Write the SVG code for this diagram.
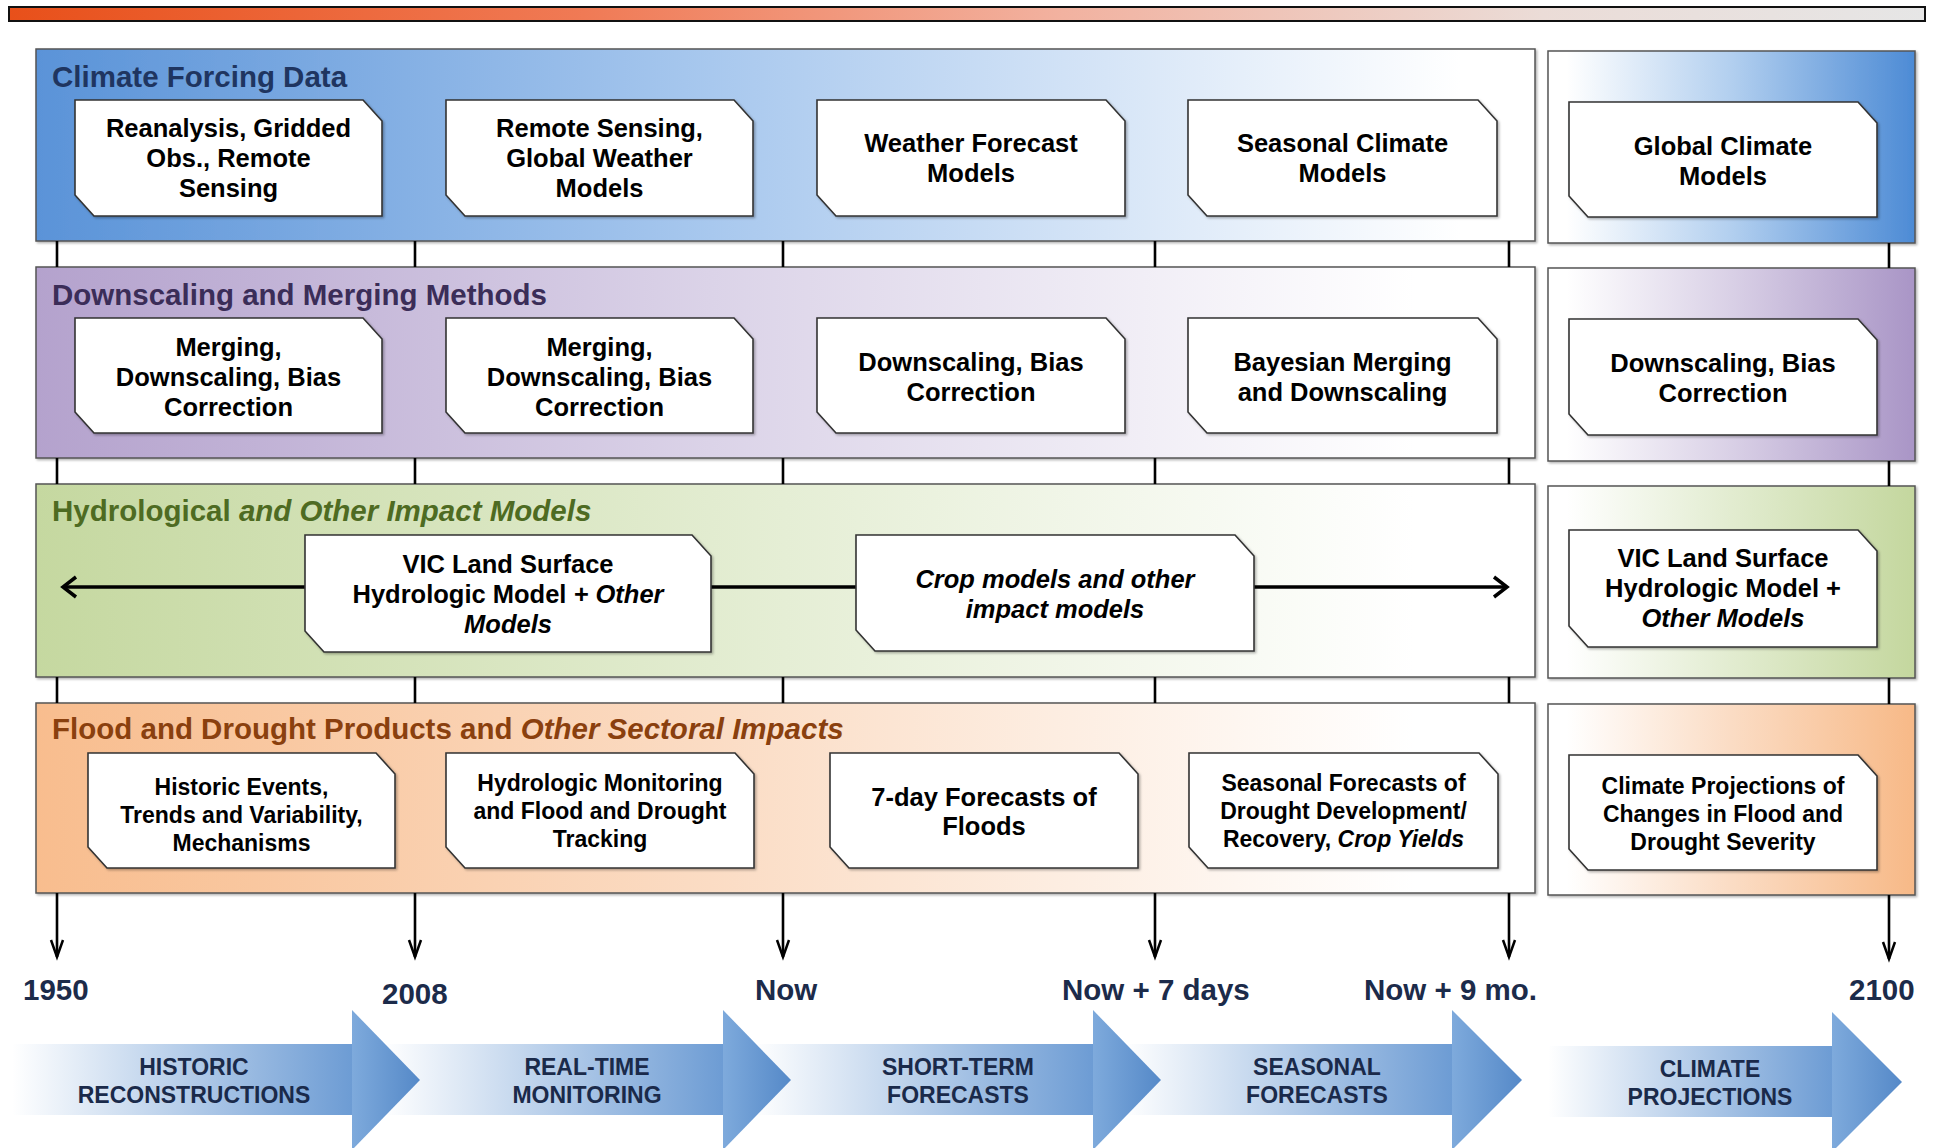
<svg xmlns="http://www.w3.org/2000/svg" width="1937" height="1148" viewBox="0 0 1937 1148">
<defs>
<style>
text{font-family:"Liberation Sans",Arial,Helvetica,sans-serif;font-weight:bold}
.bt{font-size:25.5px;fill:#000;text-anchor:middle}
.bs{font-size:23px;fill:#000;text-anchor:middle}
.ttl{font-size:29.5px}
.tl{font-size:29.5px;fill:#1c2b4a}
.at{font-size:23px;fill:#1a2a4a;text-anchor:middle}
.it{font-style:italic}
.box{fill:#fff;stroke:#333;stroke-width:1.6;filter:url(#sh)}
.pan{stroke:#555;stroke-width:1.5;filter:url(#sh)}
.tick{stroke:#000;stroke-width:2.6;fill:none}
</style>
<filter id="sh" x="-5%" y="-5%" width="110%" height="115%"><feDropShadow dx="1.5" dy="1.5" stdDeviation="1" flood-color="#000" flood-opacity="0.3"/></filter>
<linearGradient id="topbar" x1="0" y1="0" x2="1" y2="0"><stop offset="0" stop-color="#e8501a"/><stop offset="0.3" stop-color="#f07a55"/><stop offset="0.55" stop-color="#f2b2a0"/><stop offset="0.8" stop-color="#ebdcd7"/><stop offset="1" stop-color="#e6e6e6"/></linearGradient>
<linearGradient id="gB" x1="0" y1="0" x2="1" y2="0"><stop offset="0" stop-color="#5a93d8"/><stop offset="0.45" stop-color="#a8c8ee"/><stop offset="0.95" stop-color="#ffffff"/></linearGradient>
<linearGradient id="gBr" x1="0" y1="0" x2="1" y2="0"><stop offset="0.05" stop-color="#ffffff"/><stop offset="0.5" stop-color="#b2cfef"/><stop offset="1" stop-color="#4d8bd5"/></linearGradient>
<linearGradient id="gP" x1="0" y1="0" x2="1" y2="0"><stop offset="0" stop-color="#b4a2cd"/><stop offset="0.45" stop-color="#dbd3e8"/><stop offset="0.92" stop-color="#ffffff"/></linearGradient>
<linearGradient id="gPr" x1="0" y1="0" x2="1" y2="0"><stop offset="0.05" stop-color="#ffffff"/><stop offset="0.5" stop-color="#d9d0e6"/><stop offset="1" stop-color="#a995c6"/></linearGradient>
<linearGradient id="gG" x1="0" y1="0" x2="1" y2="0"><stop offset="0" stop-color="#c5d8a0"/><stop offset="0.45" stop-color="#e2ecd0"/><stop offset="0.92" stop-color="#ffffff"/></linearGradient>
<linearGradient id="gGr" x1="0" y1="0" x2="1" y2="0"><stop offset="0.05" stop-color="#ffffff"/><stop offset="0.5" stop-color="#e2ecd0"/><stop offset="1" stop-color="#c4d79e"/></linearGradient>
<linearGradient id="gO" x1="0" y1="0" x2="1" y2="0"><stop offset="0" stop-color="#f8bd8e"/><stop offset="0.45" stop-color="#fbdcc4"/><stop offset="0.92" stop-color="#ffffff"/></linearGradient>
<linearGradient id="gOr" x1="0" y1="0" x2="1" y2="0"><stop offset="0.05" stop-color="#ffffff"/><stop offset="0.5" stop-color="#fbdcc4"/><stop offset="1" stop-color="#f7b987"/></linearGradient>
<linearGradient id="body" x1="0" y1="0" x2="1" y2="0"><stop offset="0" stop-color="#6d9cd4" stop-opacity="0"/><stop offset="1" stop-color="#6d9cd4" stop-opacity="1"/></linearGradient>
<linearGradient id="head" x1="0" y1="0" x2="1" y2="0"><stop offset="0" stop-color="#7eaadc"/><stop offset="1" stop-color="#5589c8"/></linearGradient>
<marker id="chev" viewBox="-16 -12 20 24" refX="0" refY="0" markerWidth="20" markerHeight="24" markerUnits="userSpaceOnUse" orient="auto-start-reverse"><path d="M-13,-10 L0,0 L-13,10" fill="none" stroke="#000" stroke-width="3.5"/></marker>
<marker id="dn" viewBox="-20 -8 24 16" refX="0" refY="0" markerWidth="24" markerHeight="16" markerUnits="userSpaceOnUse" orient="auto"><path d="M-17,-6 L0,0 L-17,6" fill="none" stroke="#000" stroke-width="2.5"/></marker>
</defs>
<rect width="1937" height="1148" fill="#fff"/>
<rect x="9" y="7" width="1916" height="14" fill="url(#topbar)" stroke="#111" stroke-width="2"/>

<g id="bands">
<g id="band-climate">
<rect class="pan" x="36" y="49" width="1499" height="192" fill="url(#gB)"/>
<rect class="pan" x="1548" y="51" width="367" height="192" fill="url(#gBr)"/>
<text class="ttl" x="52" y="87" fill="#1f3560">Climate Forcing Data</text>
</g>
<g id="band-downscaling">
<rect class="pan" x="36" y="267" width="1499" height="191" fill="url(#gP)"/>
<rect class="pan" x="1548" y="268" width="367" height="193" fill="url(#gPr)"/>
<text class="ttl" x="52" y="305" fill="#3b2d58">Downscaling and Merging Methods</text>
</g>
<g id="band-hydro">
<rect class="pan" x="36" y="484" width="1499" height="193" fill="url(#gG)"/>
<rect class="pan" x="1548" y="486" width="367" height="192" fill="url(#gGr)"/>
<text class="ttl" x="52" y="521" fill="#4e6b22">Hydrological <tspan class="it">and Other Impact Models</tspan></text>
</g>
<g id="band-products">
<rect class="pan" x="36" y="703" width="1499" height="190" fill="url(#gO)"/>
<rect class="pan" x="1548" y="704" width="367" height="191" fill="url(#gOr)"/>
<text class="ttl" x="52" y="739" fill="#8a400e">Flood and Drought Products and <tspan class="it">Other Sectoral Impacts</tspan></text>
</g>
</g>

<g id="connectors">
<path class="tick" d="M57,241V267 M415,241V267 M783,241V267 M1155,241V267 M1509,241V267 M1889,243V268"/>
<path class="tick" d="M57,458V484 M415,458V484 M783,458V484 M1155,458V484 M1509,458V484 M1889,461V486"/>
<path class="tick" d="M57,677V703 M415,677V703 M783,677V703 M1155,677V703 M1509,677V703 M1889,678V704"/>
<line class="tick" x1="57" y1="893" x2="57" y2="957" marker-end="url(#dn)"/>
<line class="tick" x1="415" y1="893" x2="415" y2="957" marker-end="url(#dn)"/>
<line class="tick" x1="783" y1="893" x2="783" y2="957" marker-end="url(#dn)"/>
<line class="tick" x1="1155" y1="893" x2="1155" y2="957" marker-end="url(#dn)"/>
<line class="tick" x1="1509" y1="893" x2="1509" y2="957" marker-end="url(#dn)"/>
<line class="tick" x1="1889" y1="895" x2="1889" y2="959" marker-end="url(#dn)"/>
<line x1="63" y1="587" x2="1507" y2="587" stroke="#000" stroke-width="3.5" marker-start="url(#chev)" marker-end="url(#chev)"/>
</g>

<g id="climate-boxes">
<g id="n-reanalysis"><path class="box" d="M75,100 H363 L382,121 V216 H94 L75,195 Z"/>
<text class="bt" x="228.5" y="137">Reanalysis, Gridded</text><text class="bt" x="228.5" y="167">Obs., Remote</text><text class="bt" x="228.5" y="197">Sensing</text></g>
<g id="n-remote"><path class="box" d="M446,100 H734 L753,121 V216 H465 L446,195 Z"/>
<text class="bt" x="599.5" y="137">Remote Sensing,</text><text class="bt" x="599.5" y="167">Global Weather</text><text class="bt" x="599.5" y="197">Models</text></g>
<g id="n-weather"><path class="box" d="M817,100 H1106 L1125,121 V216 H836 L817,195 Z"/>
<text class="bt" x="971" y="152">Weather Forecast</text><text class="bt" x="971" y="182">Models</text></g>
<g id="n-seasonal"><path class="box" d="M1188,100 H1478 L1497,121 V216 H1207 L1188,195 Z"/>
<text class="bt" x="1342.5" y="152">Seasonal Climate</text><text class="bt" x="1342.5" y="182">Models</text></g>
<g id="n-gcm"><path class="box" d="M1569,102 H1858 L1877,123 V217 H1588 L1569,196 Z"/>
<text class="bt" x="1723" y="155">Global Climate</text><text class="bt" x="1723" y="185">Models</text></g>
</g>

<g id="downscaling-boxes">
<g id="n-merge1"><path class="box" d="M75,318 H363 L382,339 V433 H94 L75,412 Z"/>
<text class="bt" x="228.5" y="356">Merging,</text><text class="bt" x="228.5" y="386">Downscaling, Bias</text><text class="bt" x="228.5" y="416">Correction</text></g>
<g id="n-merge2"><path class="box" d="M446,318 H734 L753,339 V433 H465 L446,412 Z"/>
<text class="bt" x="599.5" y="356">Merging,</text><text class="bt" x="599.5" y="386">Downscaling, Bias</text><text class="bt" x="599.5" y="416">Correction</text></g>
<g id="n-down1"><path class="box" d="M817,318 H1106 L1125,339 V433 H836 L817,412 Z"/>
<text class="bt" x="971" y="371">Downscaling, Bias</text><text class="bt" x="971" y="401">Correction</text></g>
<g id="n-bayes"><path class="box" d="M1188,318 H1478 L1497,339 V433 H1207 L1188,412 Z"/>
<text class="bt" x="1342.5" y="371">Bayesian Merging</text><text class="bt" x="1342.5" y="401">and Downscaling</text></g>
<g id="n-down2"><path class="box" d="M1569,319 H1858 L1877,340 V435 H1588 L1569,414 Z"/>
<text class="bt" x="1723" y="372">Downscaling, Bias</text><text class="bt" x="1723" y="402">Correction</text></g>
</g>

<g id="hydro-boxes">
<g id="n-vic"><path class="box" d="M305,535 H692 L711,556 V652 H324 L305,631 Z"/>
<text class="bt" x="508" y="573">VIC Land Surface</text><text class="bt" x="508" y="603">Hydrologic Model <tspan class="it">+ Other</tspan></text><text class="bt it" x="508" y="633">Models</text></g>
<g id="n-crop"><path class="box" d="M856,535 H1235 L1254,556 V651 H875 L856,630 Z"/>
<text class="bt it" x="1055" y="588">Crop models and other</text><text class="bt it" x="1055" y="618">impact models</text></g>
<g id="n-vic2"><path class="box" d="M1569,530 H1858 L1877,551 V647 H1588 L1569,626 Z"/>
<text class="bt" x="1723" y="567">VIC Land Surface</text><text class="bt" x="1723" y="597">Hydrologic Model +</text><text class="bt it" x="1723" y="627">Other Models</text></g>
</g>

<g id="product-boxes">
<g id="n-historic"><path class="box" d="M88,753 H376 L395,774 V868 H107 L88,847 Z"/>
<text class="bs" x="241.5" y="795">Historic Events,</text><text class="bs" x="241.5" y="823">Trends and Variability,</text><text class="bs" x="241.5" y="851">Mechanisms</text></g>
<g id="n-monitor"><path class="box" d="M446,753 H735 L754,774 V868 H465 L446,847 Z"/>
<text class="bs" x="600" y="791">Hydrologic Monitoring</text><text class="bs" x="600" y="819">and Flood and Drought</text><text class="bs" x="600" y="847">Tracking</text></g>
<g id="n-7day"><path class="box" d="M830,753 H1119 L1138,774 V868 H849 L830,847 Z"/>
<text class="bt" x="984" y="806">7-day Forecasts of</text><text class="bt" x="984" y="835">Floods</text></g>
<g id="n-seasfc"><path class="box" d="M1189,753 H1479 L1498,774 V868 H1208 L1189,847 Z"/>
<text class="bs" x="1343.5" y="791">Seasonal Forecasts of</text><text class="bs" x="1343.5" y="819">Drought Development/</text><text class="bs" x="1343.5" y="847">Recovery, <tspan class="it">Crop Yields</tspan></text></g>
<g id="n-proj"><path class="box" d="M1569,755 H1858 L1877,776 V870 H1588 L1569,849 Z"/>
<text class="bs" x="1723" y="794">Climate Projections of</text><text class="bs" x="1723" y="822">Changes in Flood and</text><text class="bs" x="1723" y="850">Drought Severity</text></g>
</g>

<g id="time-labels">
<text class="tl" x="23" y="1000">1950</text>
<text class="tl" x="382" y="1004">2008</text>
<text class="tl" x="755" y="1000">Now</text>
<text class="tl" x="1062" y="1000">Now + 7 days</text>
<text class="tl" x="1364" y="1000">Now + 9 mo.</text>
<text class="tl" x="1849" y="1000">2100</text>
</g>

<g id="phase-arrows">
<g id="a-climate"><rect x="1548" y="1046" width="284" height="71" fill="url(#body)"/><polygon points="1832,1012 1902,1082 1832,1152" fill="url(#head)"/>
<text class="at" x="1710" y="1077">CLIMATE</text><text class="at" x="1710" y="1105">PROJECTIONS</text></g>
<g id="a-seasonal"><rect x="1124" y="1044" width="328" height="71" fill="url(#body)"/><polygon points="1452,1010 1522,1080 1452,1150" fill="url(#head)"/>
<text class="at" x="1317" y="1075">SEASONAL</text><text class="at" x="1317" y="1103">FORECASTS</text></g>
<g id="a-short"><rect x="753" y="1044" width="340" height="71" fill="url(#body)"/><polygon points="1093,1010 1161,1080 1093,1150" fill="url(#head)"/>
<text class="at" x="958" y="1075">SHORT-TERM</text><text class="at" x="958" y="1103">FORECASTS</text></g>
<g id="a-realtime"><rect x="383" y="1044" width="340" height="71" fill="url(#body)"/><polygon points="723,1010 791,1080 723,1150" fill="url(#head)"/>
<text class="at" x="587" y="1075">REAL-TIME</text><text class="at" x="587" y="1103">MONITORING</text></g>
<g id="a-historic"><rect x="12" y="1044" width="340" height="71" fill="url(#body)"/><polygon points="352,1010 420,1080 352,1150" fill="url(#head)"/>
<text class="at" x="194" y="1075">HISTORIC</text><text class="at" x="194" y="1103">RECONSTRUCTIONS</text></g>
</g>
</svg>
